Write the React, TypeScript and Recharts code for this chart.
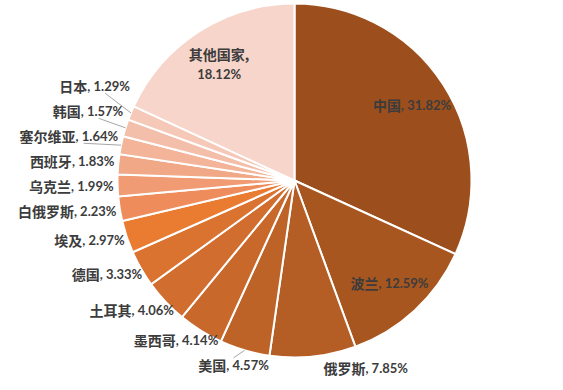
import React from 'react';
import { PieChart, Pie, Cell } from 'recharts';

const categories = ['中国', '波兰', '俄罗斯', '美国', '墨西哥', '土耳其', '德国', '埃及', '白俄罗斯', '乌克兰', '西班牙', '塞尔维亚', '韩国', '日本', '其他国家'];
const shares = [31.82, 12.59, 7.85, 4.57, 4.14, 4.06, 3.33, 2.97, 2.23, 1.99, 1.83, 1.64, 1.57, 1.29, 18.12];

const COLORS = [
  '#9C4F1D', '#A8561F', '#B45D24', '#BE6328', '#C8682B', '#D16D2E', '#DA7230', '#EA7C32',
  '#EE8C5C', '#F09B73', '#F1A886', '#F3B49A', '#F4BFAA', '#F6C8B7', '#F7D5CA',
];

const CJK_FONT = '"Noto Sans CJK SC", sans-serif';
const NUM_FONT = 'Lato, "Noto Sans", sans-serif';
const TEXT_COLOR = '#3C3C3C';

const data = categories.map((name, i) => ({ name, value: shares[i] }));

const RAD = Math.PI / 180;
let ctx: CanvasRenderingContext2D | null = null;
const measure = (text: string, font: string) => {
  if (!ctx) ctx = document.createElement('canvas').getContext('2d');
  if (!ctx) return text.length * 8;
  ctx.font = font;
  return ctx.measureText(text).width;
};

const pctText = (v: number) => `${v.toFixed(2)}%`;

type Item = {
  inside: boolean;
  wrap: boolean;
  x: number;
  y: number;
  w: number;
  ex: number;
  ey: number;
  shifted: boolean;
  s: number;
  c: number;
};

let cache: { key: string; items: Item[] } | null = null;

// label placement: inside for big slices, outside end for the rest, with a simple
// vertical spread on the crowded left side
const layout = (cx: number, cy: number, r: number): Item[] => {
  const key = `${cx},${cy},${r}`;
  if (cache && cache.key === key) return cache.items;
  const total = shares.reduce((a, b) => a + b, 0);
  let cum = 0;
  const h = 15;
  const items: Item[] = shares.map((v, i) => {
    const theta = ((cum + v / 2) / total) * 360;
    cum += v;
    const s = Math.sin(theta * RAD);
    const c = Math.cos(theta * RAD);
    const w =
      measure(categories[i], `bold 14px ${CJK_FONT}`) + measure(`, ${pctText(v)}`, `bold 13px ${NUM_FONT}`);
    const ex = cx + r * s;
    const ey = cy - r * c;
    if (v / total > 0.1) {
      return { inside: true, wrap: w > 90, x: cx + r * 0.79 * s, y: cy - r * 0.79 * c, w, ex, ey, shifted: false, s, c };
    }
    const px = cx + (r + 4) * s;
    const py = cy - (r + 4) * c;
    // right half: box starts at the slice edge; left half: box hugs the edge
    const x = s > 0 ? px + w / 2 + 10 : px + (w / 2) * s;
    return { inside: false, wrap: false, x, y: py - (h / 2) * c, w, ex, ey, shifted: false, s, c };
  });

  const gap = 25;
  const left = items.filter((o) => !o.inside && o.s < 0);
  if (left.length) {
    let pivot = 0;
    left.forEach((o, k) => {
      if (Math.abs(o.c) < Math.abs(left[pivot].c)) pivot = k;
    });
    for (let k = pivot + 1; k < left.length; k++) {
      const lim = left[k - 1].y - gap;
      if (left[k].y > lim) {
        if (left[k].y - lim > 3) left[k].shifted = true;
        left[k].y = lim;
      }
    }
    for (let k = pivot - 1; k >= 0; k--) {
      const lim = left[k + 1].y + gap;
      if (left[k].y < lim) {
        if (lim - left[k].y > 3) left[k].shifted = true;
        left[k].y = lim;
      }
    }
  }
  cache = { key, items };
  return items;
};

const renderLabel = (props: any) => {
  const { cx, cy, outerRadius, index } = props;
  const items = layout(cx, cy, outerRadius);
  const it = items[index];
  const name = categories[index];
  const pct = pctText(shares[index]);

  if (it.inside && it.wrap) {
    return (
      <text x={it.x} y={it.y} textAnchor="middle" fill={TEXT_COLOR} fontWeight="bold">
        <tspan x={it.x} dy={-3} fontFamily={CJK_FONT} fontSize={14}>
          {name},
        </tspan>
        <tspan x={it.x} dy={19} fontFamily={NUM_FONT} fontSize={13}>
          {pct}
        </tspan>
      </text>
    );
  }

  let line = null;
  if (it.shifted) {
    const top = it.y - 7.5;
    const bottom = it.y + 7.5;
    let tx = it.x + it.w / 2;
    let ty = it.y;
    if (it.ey < top) {
      tx = it.x;
      ty = top;
    } else if (it.ey > bottom) {
      tx = it.x + it.w * 0.15;
      ty = bottom;
    }
    line = <line x1={it.ex} y1={it.ey} x2={tx} y2={ty} stroke="#A6A6A6" strokeWidth={1} />;
  }

  return (
    <g>
      {line}
      <text x={it.x} y={it.y} textAnchor="middle" dominantBaseline="central" fill={TEXT_COLOR} fontWeight="bold">
        <tspan fontFamily={CJK_FONT} fontSize={14}>
          {name}
        </tspan>
        <tspan fontFamily={NUM_FONT} fontSize={13}>
          , {pct}
        </tspan>
      </text>
    </g>
  );
};

const App = () => {
  return (
    <div style={{ position: 'absolute', left: 0, top: 0, width: 563, height: 390, background: '#fff' }}>
      <PieChart width={563} height={390} margin={{ top: 0, right: 0, bottom: 0, left: 0 }}>
        <Pie
          data={data}
          dataKey="value"
          nameKey="name"
          cx={294.5}
          cy={180.5}
          outerRadius={177}
          startAngle={90}
          endAngle={-270}
          stroke="#fff"
          strokeWidth={2}
          label={renderLabel}
          labelLine={false}
          isAnimationActive={false}
        >
          {data.map((entry, index) => (
            <Cell key={`cell-${index}`} fill={COLORS[index]} />
          ))}
        </Pie>
      </PieChart>
    </div>
  );
};

export default App;
